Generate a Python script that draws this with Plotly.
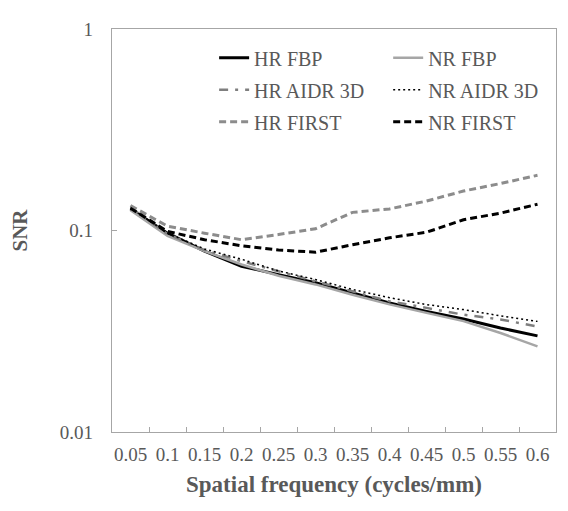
import plotly.graph_objects as go

categories = ["0.05", "0.1", "0.15", "0.2", "0.25", "0.3", "0.35", "0.4", "0.45", "0.5", "0.55", "0.6"]

hr_fbp = [0.128, 0.097, 0.079, 0.0665, 0.0604, 0.055, 0.049, 0.0437, 0.0397, 0.0364, 0.0328, 0.030]
nr_fbp = [0.126, 0.094, 0.079, 0.0678, 0.0596, 0.054, 0.048, 0.043, 0.039, 0.0355, 0.031, 0.0266]
hr_aidr = [0.130, 0.096, 0.080, 0.0704, 0.0628, 0.0561, 0.050, 0.0445, 0.0413, 0.0382, 0.0362, 0.0334]
nr_aidr = [0.130, 0.097, 0.081, 0.072, 0.063, 0.0571, 0.051, 0.0464, 0.0429, 0.0405, 0.0377, 0.0354]
hr_first = [0.133, 0.105, 0.097, 0.090, 0.0955, 0.102, 0.123, 0.128, 0.140, 0.157, 0.171, 0.188]
nr_first = [0.129, 0.099, 0.090, 0.084, 0.080, 0.078, 0.085, 0.092, 0.098, 0.113, 0.122, 0.135]

y_tickvals = [0.01, 0.1, 1]
y_ticktext = ["0.01", "0.1", "1"]

FONT = "Liberation Serif"
TXT = "#595959"

series = [
    ("HR FBP", hr_fbp, dict(color="#000000", width=3, dash="solid"), "legend"),
    ("NR FBP", nr_fbp, dict(color="#a6a6a6", width=2.5, dash="solid"), "legend2"),
    ("HR AIDR 3D", hr_aidr, dict(color="#7f7f7f", width=2.5, dash="9px,7px,3px,7px"), "legend"),
    ("NR AIDR 3D", nr_aidr, dict(color="#000000", width=1.5, dash="2px,3px"), "legend2"),
    ("HR FIRST", hr_first, dict(color="#8c8c8c", width=3, dash="7px,4px"), "legend"),
    ("NR FIRST", nr_first, dict(color="#000000", width=3, dash="7px,4px"), "legend2"),
]

fig = go.Figure()
for name, vals, line, leg in series:
    fig.add_trace(go.Scatter(
        x=categories, y=vals, mode="lines", name=name, line=line,
        legend=leg, legendgroup=name,
    ))

leg_common = dict(
    font=dict(family=FONT, size=20, color=TXT),
    bgcolor="rgba(0,0,0,0)", borderwidth=0,
    xanchor="left", yanchor="top", tracegroupgap=3,
    itemwidth=30, orientation="v",
)

# page body has an 8px margin: figure is sized/offset to compensate
fig.update_layout(
    width=560, height=503,
    margin=dict(l=89, r=11, t=20, b=79),
    paper_bgcolor="white", plot_bgcolor="white",
    font=dict(family=FONT, color=TXT),
    legend=dict(x=0.230, y=0.977, **leg_common),
    legend2=dict(x=0.622, y=0.977, **leg_common),
    xaxis=dict(
        type="category", range=[-0.5, 11.5],
        tickson="boundaries", ticks="inside", ticklen=5, tickcolor="#a6a6a6",
        showline=True, linecolor="#a6a6a6", linewidth=1.3, mirror=True,
        showgrid=False, zeroline=False, tickangle=0,
        tickfont=dict(family=FONT, size=19, color=TXT),
        ticklabelstandoff=5,
        title=dict(text="<b>Spatial frequency (cycles/mm)</b>",
                   font=dict(family=FONT, size=23, color=TXT), standoff=11),
    ),
    yaxis=dict(
        type="log", range=[-2, 0],
        tickvals=y_tickvals, ticktext=y_ticktext,
        ticks="inside", ticklen=5, tickcolor="#a6a6a6",
        showline=True, linecolor="#a6a6a6", linewidth=1.3, mirror=True,
        showgrid=False, zeroline=False,
        tickfont=dict(family=FONT, size=19, color=TXT),
        ticklabelstandoff=14,
        title=dict(text="<b>SNR</b>", font=dict(family=FONT, size=21, color=TXT), standoff=26),
    ),
)

fig.write_html("out.html")
